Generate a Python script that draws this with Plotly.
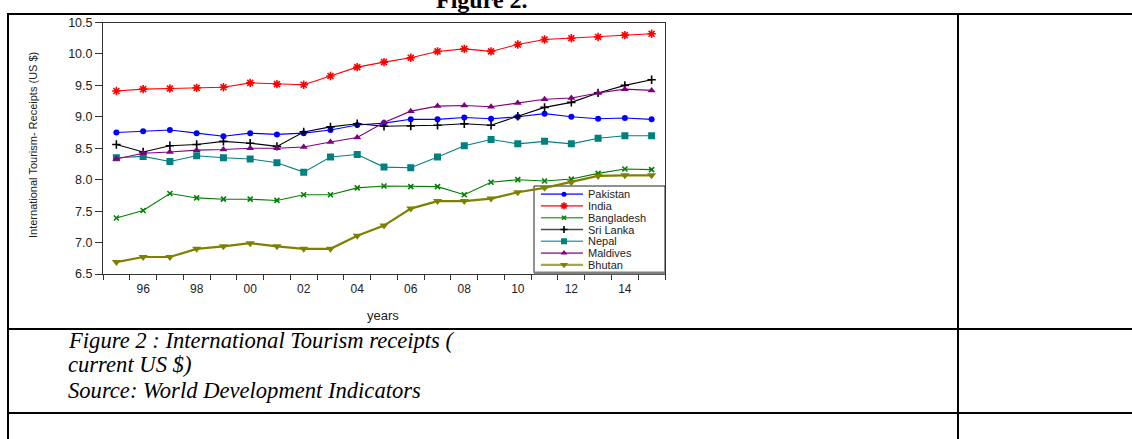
import plotly.graph_objects as go

# ---- data: log of international tourism receipts (current US $) ----
years = list(range(1995, 2016))
pakistan = [8.75, 8.77, 8.79, 8.74, 8.69, 8.74, 8.72, 8.74, 8.79, 8.87, 8.90,
            8.96, 8.96, 8.99, 8.97, 9.00, 9.05, 9.00, 8.97, 8.98, 8.96]
india = [9.41, 9.44, 9.45, 9.46, 9.47, 9.54, 9.52, 9.51, 9.65, 9.79, 9.87,
         9.94, 10.04, 10.08, 10.04, 10.15, 10.23, 10.25, 10.27, 10.30, 10.32]
bangladesh = [7.39, 7.51, 7.78, 7.71, 7.69, 7.69, 7.67, 7.76, 7.76, 7.87, 7.90,
              7.89, 7.89, 7.76, 7.96, 8.00, 7.98, 8.01, 8.10, 8.17, 8.16]
sri_lanka = [8.56, 8.44, 8.54, 8.56, 8.61, 8.58, 8.53, 8.76, 8.84, 8.89, 8.85,
             8.855, 8.865, 8.89, 8.865, 9.01, 9.15, 9.23, 9.38, 9.50, 9.59]
nepal = [8.35, 8.37, 8.29, 8.38, 8.35, 8.33, 8.27, 8.12, 8.36, 8.40, 8.20,
         8.19, 8.36, 8.54, 8.64, 8.57, 8.61, 8.57, 8.66, 8.70, 8.70]
maldives = [8.33, 8.42, 8.44, 8.47, 8.48, 8.50, 8.50, 8.52, 8.60, 8.67, 8.91,
            9.09, 9.17, 9.18, 9.16, 9.22, 9.28, 9.30, 9.38, 9.44, 9.42]
bhutan = [6.69, 6.77, 6.77, 6.90, 6.94, 6.99, 6.94, 6.90, 6.90, 7.11, 7.27,
          7.54, 7.66, 7.66, 7.70, 7.80, 7.87, 7.96, 8.06, 8.07, 8.07]

tick_years = [1996, 1998, 2000, 2002, 2004, 2006, 2008, 2010, 2012, 2014]
tick_text = ["96", "98", "00", "02", "04", "06", "08", "10", "12", "14"]
y_ticks = [6.5, 7.0, 7.5, 8.0, 8.5, 9.0, 9.5, 10.0, 10.5]

# (name, values, colour, marker symbol, marker size, line width)
series = [
    ("Pakistan", pakistan, "#0000FF", "circle", 6, 1.1),
    ("India", india, "#FF0000", "asterisk-open", 7, 1.1),
    ("Bangladesh", bangladesh, "#008000", "x-thin-open", 5, 1.1),
    ("Sri Lanka", sri_lanka, "#000000", "cross-thin-open", 6, 1.1),
    ("Nepal", nepal, "#008080", "square", 7, 1.1),
    ("Maldives", maldives, "#800080", "triangle-up", 7, 1.1),
    ("Bhutan", bhutan, "#808000", "triangle-down", 8, 2.2),
]

W, H = 1132, 439


def px(x):
    return x / W


def py(y):
    return 1 - y / H


SANS = "Liberation Sans, Arial, sans-serif"
SERIF = "Liberation Serif, Times New Roman, serif"


def marker_style(color, symbol, size):
    open_sym = symbol.endswith("-open")
    return dict(symbol=symbol, size=size, color=color,
                line=dict(color=color, width=1.6 if open_sym else 0))


fig = go.Figure()

for name, vals, color, symbol, size, lw in series:
    fig.add_trace(go.Scatter(
        x=years, y=vals, mode="lines+markers", name=name,
        line=dict(color=color, width=lw),
        marker=marker_style(color, symbol, size),
        showlegend=False, xaxis="x", yaxis="y", hoverinfo="skip"))

# legend box drawn on its own small axes
annotations = []
for i, (name, vals, color, symbol, size, lw) in enumerate(series):
    fig.add_trace(go.Scatter(
        x=[0.053, 0.374], y=[i, i], mode="lines",
        line=dict(color=color, width=max(lw, 1.6)), opacity=0.7,
        showlegend=False, xaxis="x2", yaxis="y2", hoverinfo="skip"))
    fig.add_trace(go.Scatter(
        x=[0.229], y=[i], mode="markers",
        marker=marker_style(color, symbol, size - 1),
        showlegend=False, xaxis="x2", yaxis="y2", hoverinfo="skip"))
    annotations.append(dict(
        x=0.405, y=i, xref="x2", yref="y2", text=name, showarrow=False,
        xanchor="left", yanchor="middle", borderpad=0,
        font=dict(family=SANS, size=11, color="#222222")))

# captions and axis titles
annotations += [
    dict(x=px(482), y=py(-0.5), xref="paper", yref="paper", text="<b>Figure 2.</b>",
         showarrow=False, xanchor="center", yanchor="middle",
         font=dict(family=SERIF, size=24, color="#000000")),
    dict(x=px(33), y=py(145), xref="paper", yref="paper",
         text="International Tourism- Receipts (US $)", textangle=-90,
         showarrow=False, xanchor="center", yanchor="middle",
         font=dict(family=SANS, size=11, color="#222222")),
    dict(x=px(383), y=py(315), xref="paper", yref="paper", text="years",
         showarrow=False, xanchor="center", yanchor="middle",
         font=dict(family=SANS, size=13, color="#222222")),
]
for txt, base in [("Figure 2 : International Tourism receipts (", 348),
                  ("current US $)", 372),
                  ("Source: World Development Indicators", 398)]:
    annotations.append(dict(
        x=px(66), y=py(base - 7.6), xref="paper", yref="paper", text=txt,
        showarrow=False, xanchor="left", yanchor="middle",
        font=dict(family=SERIF, size=22.6, color="#000000", style="italic")))

shapes = []
# document table rules
for y in (14, 329, 413):
    shapes.append(dict(type="line", xref="paper", yref="paper",
                       x0=px(7), x1=1, y0=py(y), y1=py(y),
                       line=dict(color="#000000", width=2)))
for x in (8, 958):
    shapes.append(dict(type="line", xref="paper", yref="paper",
                       x0=px(x), x1=px(x), y0=py(13), y1=0,
                       line=dict(color="#000000", width=2)))
# legend frame
shapes.append(dict(type="rect", xref="paper", yref="paper",
                   x0=px(534), x1=px(665), y0=py(273), y1=py(186),
                   line=dict(color="#222222", width=1), fillcolor="white",
                   layer="below"))
shapes.append(dict(type="line", xref="paper", yref="paper",
                   x0=px(534), x1=px(665), y0=py(273), y1=py(273),
                   line=dict(color="#808080", width=3)))

fig.update_layout(
    template="none",
    width=W, height=H, autosize=False,
    margin=dict(l=0, r=0, t=0, b=0, pad=0, autoexpand=False),
    paper_bgcolor="white", plot_bgcolor="rgba(0,0,0,0)",
    showlegend=False,
    font=dict(family=SANS, color="#222222"),
    xaxis=dict(
        domain=[px(103), px(665)], range=[1994.5, 2015.5], anchor="y",
        automargin=False,
        tickmode="array", tickvals=tick_years, ticktext=tick_text,
        ticks="outside", ticklen=4, tickcolor="rgba(0,0,0,0)",
        minor=dict(tickmode="array",
                   tickvals=[y + 0.5 for y in range(1994, 2016)],
                   ticks="outside", ticklen=5, tickcolor="#333333", tickwidth=1,
                   showgrid=False),
        showline=True, linecolor="#333333", linewidth=1, mirror=True,
        showgrid=False, zeroline=False,
        tickfont=dict(family=SANS, size=12, color="#222222")),
    yaxis=dict(
        domain=[py(274), py(22.5)], range=[6.5, 10.5], anchor="x",
        automargin=False,
        tickmode="array", tickvals=y_ticks,
        ticktext=[f"{v:.1f}" for v in y_ticks],
        ticks="outside", ticklen=7, tickcolor="#333333",
        showline=True, linecolor="#333333", linewidth=1, mirror=True,
        showgrid=False, zeroline=False,
        tickfont=dict(family=SANS, size=12.5, color="#222222")),
    xaxis2=dict(domain=[px(534), px(665)], range=[0, 1], anchor="y2",
                visible=False, automargin=False),
    yaxis2=dict(domain=[py(273), py(186)], range=[6.69, -0.69], anchor="x2",
                visible=False, automargin=False),
    annotations=annotations,
    shapes=shapes,
)

fig.write_html("out.html")
